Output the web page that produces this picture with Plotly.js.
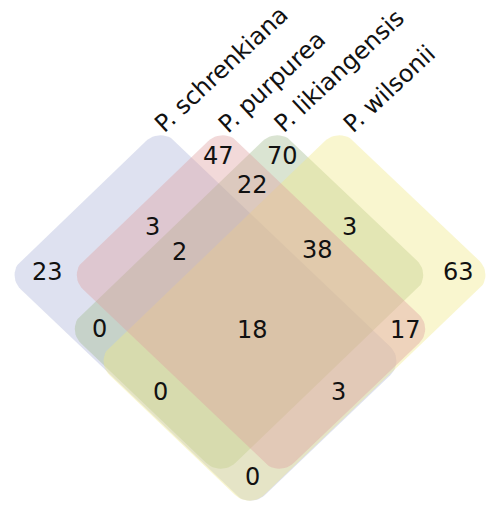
<!DOCTYPE html>
<html>
<head>
<meta charset="utf-8">
<script src="https://cdn.plot.ly/plotly-3.0.1.min.js"></script>
<style>
  html, body { margin: 0; padding: 0; background: #ffffff; }
  #chart { width: 486px; height: 506px; }
</style>
</head>
<body>
<div id="chart"></div>
<script>
// ---- data ----
// Sets: A = P. schrenkiana, B = P. purpurea, C = P. likiangensis, D = P. wilsonii
const setNames = ["P. schrenkiana", "P. purpurea", "P. likiangensis", "P. wilsonii"];
const regionKeys = ["A", "B", "C", "D", "AB", "BC", "CD", "ABC", "BCD", "AC", "ABCD", "BD", "ACD", "ABD", "AD"];
const regionCounts = [23, 47, 70, 63, 3, 22, 3, 2, 38, 0, 18, 17, 0, 3, 0];

// ---- layout ----
const W = 486, H = 506;
const SX = 1.045;          // horizontal stretch of the diamonds
const RADIUS = 20;         // corner rounding
const NUM_FONT = 24, LABEL_FONT = 24;
const FONT_FAMILY = "DejaVu Sans, Verdana, sans-serif";
const LABEL_ANGLE = 43;

// rounded rectangles turned 45 degrees: centre, half long / short diagonal, long-axis direction
const setShapes = [
  { cx: 205.5, cy: 318, p: 117, q: 74, dir: 1,  fill: "rgba(172,180,218,0.40)" },
  { cx: 251,   cy: 302, p: 101, q: 74, dir: 1,  fill: "rgba(222,160,160,0.40)" },
  { cx: 249,   cy: 302, p: 101, q: 74, dir: -1, fill: "rgba(162,188,142,0.40)" },
  { cx: 294.5, cy: 318, p: 117, q: 74, dir: -1, fill: "rgba(240,232,135,0.40)" }
];
// stacking order, bottom to top
const drawOrder = [0, 2, 3, 1];

// baseline start of each set name
const labelStart = [[165, 134], [228, 134], [284, 134], [353, 134]];

// where each region's count is written
const regionLabelPos = {
  A: [47, 272], B: [218, 156], C: [282, 156], D: [458, 272],
  AB: [152, 227], BC: [252, 185], CD: [349, 227],
  ABC: [179, 252], BCD: [317, 250],
  AC: [99, 329], ABCD: [252, 330], BD: [405, 330],
  ACD: [160, 392], ABD: [338, 392], AD: [252, 477]
};

function roundedDiamond(s) {
  const a = s.p * Math.SQRT2, b = s.q * Math.SQRT2, r = RADIUS;
  const local = [];
  const centres = [[a - r, b - r, 0], [-(a - r), b - r, 90], [-(a - r), -(b - r), 180], [a - r, -(b - r), 270]];
  const steps = 12;
  centres.forEach(([u0, w0, start]) => {
    for (let i = 0; i <= steps; i++) {
      const t = (start + 90 * i / steps) * Math.PI / 180;
      local.push([u0 + r * Math.cos(t), w0 + r * Math.sin(t)]);
    }
  });
  local.push(local[0]);
  const eL = [s.dir / Math.SQRT2, 1 / Math.SQRT2];
  const eS = [1 / Math.SQRT2, -s.dir / Math.SQRT2];
  const xs = [], ys = [];
  local.forEach(([u, w]) => {
    xs.push(s.cx + SX * (u * eL[0] + w * eS[0]));
    ys.push(s.cy + (u * eL[1] + w * eS[1]));
  });
  return { xs, ys };
}

const traces = drawOrder.map(i => {
  const s = setShapes[i];
  const pts = roundedDiamond(s);
  return {
    type: "scatter", mode: "lines", x: pts.xs, y: pts.ys,
    fill: "toself", fillcolor: s.fill, line: { width: 0, color: "rgba(0,0,0,0)" },
    hoverinfo: "skip", name: setNames[i]
  };
});

const annotations = regionKeys.map((k, i) => ({
  x: regionLabelPos[k][0], y: regionLabelPos[k][1], xref: "x", yref: "y",
  text: String(regionCounts[i]), showarrow: false,
  xanchor: "center", yanchor: "middle",
  font: { family: FONT_FAMILY, size: NUM_FONT, color: "#111111" }
}));

// set names run diagonally up and to the right
const ctx = document.createElement("canvas").getContext("2d");
ctx.font = LABEL_FONT + "px 'DejaVu Sans'";
const th = LABEL_ANGLE * Math.PI / 180;
const along = [Math.cos(th), -Math.sin(th)];
const up = [-Math.sin(th), -Math.cos(th)];
setNames.forEach((name, i) => {
  const [x0, y0] = labelStart[i];
  const w = ctx.measureText(name).width;
  annotations.push({
    x: x0 + along[0] * w / 2 + up[0] * 0.35 * LABEL_FONT,
    y: y0 + along[1] * w / 2 + up[1] * 0.35 * LABEL_FONT,
    xref: "x", yref: "y", text: name, showarrow: false,
    xanchor: "center", yanchor: "middle", textangle: -LABEL_ANGLE,
    font: { family: FONT_FAMILY, size: LABEL_FONT, color: "#111111" }
  });
});

const layout = {
  width: W, height: H,
  margin: { l: 0, r: 0, t: 0, b: 0 },
  paper_bgcolor: "#ffffff", plot_bgcolor: "#ffffff",
  showlegend: false,
  xaxis: { range: [0, W], visible: false, fixedrange: true },
  yaxis: { range: [H, 0], visible: false, fixedrange: true },
  annotations: annotations
};

Plotly.newPlot("chart", traces, layout, { staticPlot: true, displayModeBar: false });
</script>
</body>
</html>
